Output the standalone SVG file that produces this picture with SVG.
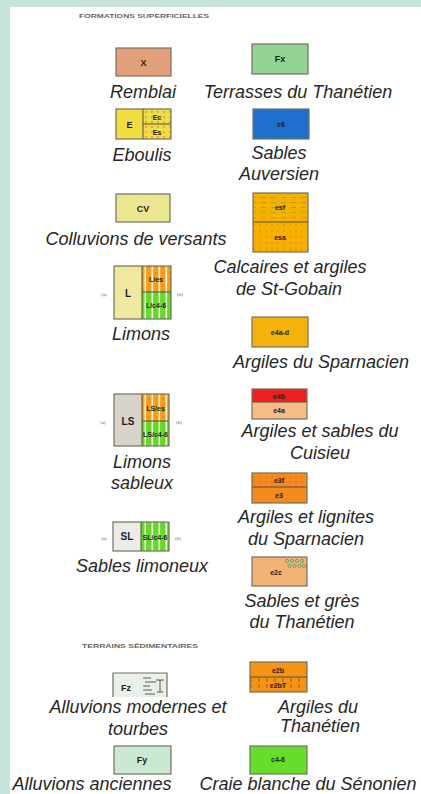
<svg xmlns="http://www.w3.org/2000/svg" width="421" height="794" viewBox="0 0 421 794">
<style>
.lbl{font-family:"Liberation Sans",Arial,sans-serif;font-style:italic;font-size:18px;fill:#262626;text-anchor:middle}
.code{font-family:"Liberation Sans",Arial,sans-serif;font-weight:bold;font-size:7px;fill:#1e1e1e;text-anchor:middle}
.big{font-size:10px}
.mid{font-size:9px}
.ab{font-family:"Liberation Serif",serif;font-size:5px;fill:#666;text-anchor:middle}
.hdr{font-family:"Liberation Sans",Arial,sans-serif;font-weight:bold;font-size:6px;fill:#666}
.bd{fill:none;stroke:#707060;stroke-width:1.2}
.dv{stroke:#505040;stroke-width:1}
</style>
<defs>
<pattern id="pGD" width="6" height="5" patternUnits="userSpaceOnUse"><rect width="6" height="5" fill="#f2dc48"/><circle cx="2" cy="2" r="0.7" fill="#3a9a3a"/></pattern>
<pattern id="pRD" width="6" height="5" patternUnits="userSpaceOnUse"><rect width="6" height="5" fill="#f2dc48"/><circle cx="2" cy="2" r="0.7" fill="#e83a2a"/></pattern>
<pattern id="pEsf" width="10" height="5" patternUnits="userSpaceOnUse"><rect width="10" height="5" fill="#f5b000"/><line x1="1" y1="2.5" x2="6" y2="2.5" stroke="#7a9a40" stroke-width="0.6"/></pattern>
<pattern id="pEsa" width="6" height="6" patternUnits="userSpaceOnUse"><rect width="6" height="6" fill="#f5b000"/><circle cx="2" cy="3" r="0.6" fill="#e84a2a"/></pattern>
<pattern id="pSO" width="7" height="6" patternUnits="userSpaceOnUse"><rect width="7" height="6" fill="#f5a01a"/><rect x="4.5" width="1.6" height="6" fill="#f8eed0"/><circle cx="2" cy="3" r="0.6" fill="#e8402a"/></pattern>
<pattern id="pSG" width="7" height="6" patternUnits="userSpaceOnUse"><rect width="7" height="6" fill="#66d82a"/><rect x="4.5" width="1.6" height="6" fill="#eaf6d8"/></pattern>
<pattern id="pE3f" width="6" height="5" patternUnits="userSpaceOnUse"><rect width="6" height="5" fill="#f58a1e"/><circle cx="2" cy="2" r="0.6" fill="#d8281a"/></pattern>
<pattern id="pT" width="8" height="15" patternUnits="userSpaceOnUse"><rect width="8" height="15" fill="#f59414"/><line x1="3" y1="3" x2="3" y2="7" stroke="#6a4010" stroke-width="0.6"/><line x1="3" y1="9" x2="3" y2="13" stroke="#6a4010" stroke-width="0.6"/></pattern>
</defs>
<rect width="421" height="794" fill="#c6e4dc"/>
<rect x="10" y="7" width="411" height="787" fill="#ffffff"/>
<text class="hdr" x="79" y="18" textLength="130" lengthAdjust="spacingAndGlyphs">FORMATIONS SUPERFICIELLES</text>
<text class="hdr" x="82" y="648" textLength="116" lengthAdjust="spacingAndGlyphs">TERRAINS SÉDIMENTAIRES</text>
<g id="nodes">
<g id="remblai"><rect x="116" y="48" width="55" height="28" fill="#e2a07a"/><rect class="bd" x="116" y="48" width="55" height="28"/><text class="code mid" x="143.5" y="66">X</text><text class="lbl" x="143" y="98">Remblai</text></g>
<g id="terrasses"><rect x="252" y="44" width="56" height="30" fill="#93d394"/><rect class="bd" x="252" y="44" width="56" height="30"/><text class="code mid" x="280" y="62">Fx</text><text class="lbl" x="298" y="98">Terrasses du Thanétien</text></g>
<g id="eboulis"><rect x="116" y="109" width="27" height="30" fill="#f2dc40"/><rect x="143" y="109" width="28" height="15" fill="url(#pGD)"/><rect x="143" y="124" width="28" height="15" fill="url(#pRD)"/><line class="dv" x1="143" y1="109" x2="143" y2="139"/><line class="dv" x1="143" y1="124" x2="171" y2="124"/><rect class="bd" x="116" y="109" width="55" height="30"/><text class="code mid" x="129.5" y="127.5">E</text><text class="code" x="157" y="119.5">Ec</text><text class="code" x="157" y="134.5">Es</text><text class="lbl" x="142" y="161">Eboulis</text></g>
<g id="auversien"><rect x="253" y="109" width="56" height="30" fill="#1f6fce"/><rect class="bd" x="253" y="109" width="56" height="30"/><text class="code" x="281" y="127">e6</text><text class="lbl" x="279" y="159">Sables</text><text class="lbl" x="279" y="180">Auversien</text></g>
<g id="colluvions"><rect x="116" y="194" width="54" height="28" fill="#ebe68f"/><rect class="bd" x="116" y="194" width="54" height="28"/><text class="code mid" x="143" y="211.5">CV</text><text class="lbl" x="136" y="245">Colluvions de versants</text></g>
<g id="stgobain"><rect x="253" y="193" width="55" height="29" fill="url(#pEsf)"/><rect x="253" y="222" width="55" height="30" fill="url(#pEsa)"/><line class="dv" x1="253" y1="222" x2="308" y2="222"/><rect class="bd" x="253" y="193" width="55" height="59"/><text class="code" x="280" y="210">esf</text><text class="code" x="280" y="240">esa</text><text class="lbl" x="290" y="273">Calcaires et argiles</text><text class="lbl" x="289" y="295">de St-Gobain</text></g>
<g id="limons"><rect x="114" y="266" width="28" height="53" fill="#f0e8a0"/><rect x="142" y="266" width="29" height="26" fill="url(#pSO)"/><rect x="142" y="292" width="29" height="27" fill="url(#pSG)"/><line class="dv" x1="142" y1="266" x2="142" y2="319"/><line class="dv" x1="142" y1="292" x2="171" y2="292"/><rect class="bd" x="114" y="266" width="57" height="53"/><text class="code big" x="128" y="297">L</text><text class="code" x="156" y="282">L/es</text><text class="code" x="156" y="308">L/c4-6</text><text class="ab" x="104" y="296">(a)</text><text class="ab" x="180" y="296">(b)</text><text class="lbl" x="141" y="340">Limons</text></g>
<g id="sparnacien"><rect x="252" y="317" width="56" height="30" fill="#f5b20a"/><rect class="bd" x="252" y="317" width="56" height="30"/><text class="code" x="280" y="335">e4a-d</text><text class="lbl" x="321" y="368">Argiles du Sparnacien</text></g>
<g id="limonssableux"><rect x="114" y="394" width="28" height="52" fill="#d8d4cc"/><rect x="142" y="394" width="27" height="27" fill="url(#pSO)"/><rect x="142" y="421" width="27" height="25" fill="url(#pSG)"/><line class="dv" x1="142" y1="394" x2="142" y2="446"/><line class="dv" x1="142" y1="421" x2="169" y2="421"/><rect class="bd" x="114" y="394" width="55" height="52"/><text class="code big" x="128" y="425">LS</text><text class="code" x="155.5" y="411">LS/es</text><text class="code" x="155.5" y="437">LS/c4-6</text><text class="ab" x="103" y="424">(a)</text><text class="ab" x="179" y="424">(b)</text><text class="lbl" x="142" y="468">Limons</text><text class="lbl" x="142" y="489">sableux</text></g>
<g id="cuisieu"><rect x="252" y="389" width="55" height="13" fill="#ee2020"/><rect x="252" y="402" width="55" height="17" fill="#f8bb85"/><line class="dv" x1="252" y1="402" x2="307" y2="402"/><rect class="bd" x="252" y="389" width="55" height="30"/><text class="code" x="279" y="398.5">e4b</text><text class="code" x="279" y="413">e4a</text><text class="lbl" x="320" y="437">Argiles et sables du</text><text class="lbl" x="320" y="459">Cuisieu</text></g>
<g id="lignites"><rect x="252" y="473" width="55" height="14" fill="url(#pE3f)"/><rect x="252" y="487" width="55" height="16" fill="#f58a1e"/><line class="dv" x1="252" y1="487" x2="307" y2="487"/><rect class="bd" x="252" y="473" width="55" height="30"/><text class="code" x="279" y="483">e3f</text><text class="code" x="279" y="498">e3</text><text class="lbl" x="306" y="523">Argiles et lignites</text><text class="lbl" x="306" y="545">du Sparnacien</text></g>
<g id="sableslimoneux"><rect x="113" y="522" width="28" height="29" fill="#ecebe8"/><rect x="141" y="522" width="28" height="29" fill="url(#pSG)"/><line class="dv" x1="141" y1="522" x2="141" y2="551"/><rect class="bd" x="113" y="522" width="56" height="29"/><text class="code big" x="127" y="540">SL</text><text class="code" x="155" y="540">SL/c4-6</text><text class="ab" x="104" y="540">(a)</text><text class="ab" x="178" y="540">(b)</text><text class="lbl" x="142" y="572">Sables limoneux</text></g>
<g id="gres"><rect x="252" y="557" width="55" height="29" fill="#f1b275"/><g fill="none" stroke="#3a9a5a" stroke-width="0.7"><circle cx="287" cy="561" r="1.6"/><circle cx="292" cy="561" r="1.6"/><circle cx="297" cy="561" r="1.6"/><circle cx="302" cy="561" r="1.6"/><circle cx="289.5" cy="566" r="1.6"/><circle cx="294.5" cy="566" r="1.6"/><circle cx="299.5" cy="566" r="1.6"/><circle cx="304" cy="566" r="1.6"/></g><rect class="bd" x="252" y="557" width="55" height="29"/><text class="code" x="276" y="575">e2c</text><text class="lbl" x="302" y="607">Sables et grès</text><text class="lbl" x="302" y="628">du Thanétien</text></g>
<g id="argilesthanetien"><rect x="250" y="662" width="57" height="15" fill="#f59414"/><rect x="250" y="677" width="57" height="15" fill="url(#pT)"/><line class="dv" x1="250" y1="677" x2="307" y2="677"/><rect class="bd" x="250" y="662" width="57" height="30"/><text class="code" x="278" y="672.5">e2b</text><text class="code" x="278" y="687.5">e2bT</text><text class="lbl" x="318" y="713">Argiles du</text><text class="lbl" x="320" y="732">Thanétien</text></g>
<g id="alluvionsmodernes"><rect x="113" y="673" width="54" height="24" fill="#e8f0e8"/><path d="M113 697V673H167V697" fill="none" stroke="#707060" stroke-width="1.2"/><text class="code mid" x="126" y="691">Fz</text><g stroke="#333" stroke-width="0.8"><line x1="143" y1="678" x2="151" y2="678"/><line x1="145" y1="682" x2="156" y2="682"/><line x1="143" y1="686" x2="150" y2="686"/><line x1="143" y1="690" x2="152" y2="690"/><line x1="145" y1="694" x2="155" y2="694"/><line x1="156" y1="680" x2="164" y2="680"/><line x1="160" y1="680" x2="160" y2="692"/><line x1="157" y1="692" x2="163" y2="692"/></g><text class="lbl" x="138" y="713">Alluvions modernes et</text><text class="lbl" x="138" y="735">tourbes</text></g>
<g id="alluvionsanciennes"><rect x="114" y="746" width="57" height="28" fill="#cae8d2"/><rect class="bd" x="114" y="746" width="57" height="28"/><text class="code mid" x="142" y="763">Fy</text><text class="lbl" x="92" y="790">Alluvions anciennes</text></g>
<g id="craie"><rect x="250" y="746" width="57" height="28" fill="#66dd2a"/><rect class="bd" x="250" y="746" width="57" height="28"/><text class="code" x="278" y="762">c4-6</text><text class="lbl" x="308" y="790">Craie blanche du Sénonien</text></g>
</g>
<g id="connectors"/>
</svg>
